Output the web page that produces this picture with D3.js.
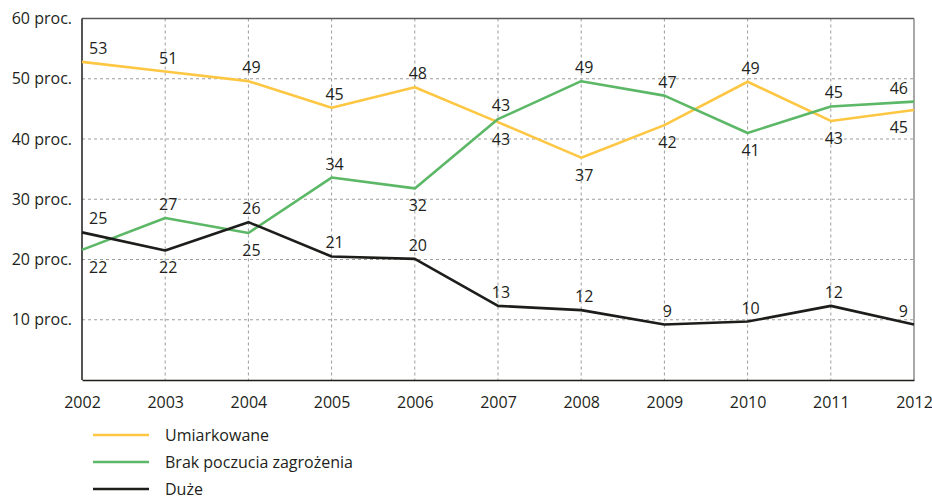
<!DOCTYPE html>
<html>
<head>
<meta charset="utf-8">
<script src="https://cdn.jsdelivr.net/npm/d3@7"></script>
<style>
  body { margin: 0; background: #fff; }
  svg text { font-family: "Open Sans", sans-serif; fill: #231f20; }
</style>
</head>
<body>
<div id="chart"></div>
<script>
const years = [2002, 2003, 2004, 2005, 2006, 2007, 2008, 2009, 2010, 2011, 2012];
const yTicks = [10, 20, 30, 40, 50, 60];

const umiarkowane = [52.8, 51.2, 49.6, 45.2, 48.6, 42.8, 36.9, 42.3, 49.5, 43.0, 44.8];
const umiarkowaneLabels = ["53", "51", "49", "45", "48", "43", "37", "42", "49", "43", "45"];
const umiarkowaneSide = ["a", "a", "a", "a", "a", "b", "b", "b", "a", "b", "b"];

const brak = [21.6, 26.9, 24.4, 33.6, 31.8, 43.3, 49.6, 47.2, 41.0, 45.4, 46.2];
const brakLabels = ["22", "27", "25", "34", "32", "43", "49", "47", "41", "45", "46"];
const brakSide = ["b", "a", "b", "a", "b", "a", "a", "a", "b", "a", "a"];

const duze = [24.5, 21.5, 26.2, 20.5, 20.1, 12.3, 11.6, 9.2, 9.7, 12.3, 9.2];
const duzeLabels = ["25", "22", "26", "21", "20", "13", "12", "9", "10", "12", "9"];
const duzeSide = ["a", "b", "a", "a", "a", "a", "a", "a", "a", "a", "a"];

const series = [
    { name: "Umiarkowane", values: umiarkowane, labels: umiarkowaneLabels, side: umiarkowaneSide, color: "#fdc743" },
    { name: "Brak poczucia zagrożenia", values: brak, labels: brakLabels, side: brakSide, color: "#5cb867" },
    { name: "Duże", values: duze, labels: duzeLabels, side: duzeSide, color: "#1d1d1b" }
];

const width = 932, height = 498;
const mLeft = 82, mRight = 914, mTop = 18.5, mBottom = 380;

const svg = d3.select("#chart").append("svg")
    .attr("width", width)
    .attr("height", height);

const x = d3.scaleLinear().domain([2002, 2012]).range([mLeft, mRight]);
const y = d3.scaleLinear().domain([0, 60]).range([mBottom, mTop]);

// grid
svg.append("g")
    .selectAll("line")
    .data(years.slice(1, -1))
    .join("line")
    .attr("x1", d => x(d)).attr("x2", d => x(d))
    .attr("y1", mTop).attr("y2", mBottom)
    .style("stroke", "#9d9d9c")
    .style("stroke-width", 1)
    .style("stroke-dasharray", "3,3");

svg.append("g")
    .selectAll("line")
    .data(yTicks.slice(0, -1))
    .join("line")
    .attr("x1", mLeft).attr("x2", mRight)
    .attr("y1", d => y(d)).attr("y2", d => y(d))
    .style("stroke", "#9d9d9c")
    .style("stroke-width", 1)
    .style("stroke-dasharray", "3,3");

// frame
svg.append("line")
    .attr("x1", mLeft).attr("x2", mRight).attr("y1", mTop).attr("y2", mTop)
    .style("stroke", "#5a5a5a").style("stroke-width", 1.3);
svg.append("line")
    .attr("x1", mRight).attr("x2", mRight).attr("y1", mTop).attr("y2", mBottom)
    .style("stroke", "#7a7a7a").style("stroke-width", 1.3);

// axes
const xAxis = svg.append("g")
    .attr("transform", `translate(0,${mBottom})`)
    .call(d3.axisBottom(x).tickValues(years).tickFormat(d3.format("d")).tickSize(0).tickPadding(17));
xAxis.select(".domain").style("stroke", "#1d1d1b").style("stroke-width", 1.5);
xAxis.selectAll("text").style("font-size", "16px").attr("dy", "0.71em").style("fill", "#231f20");

const yAxis = svg.append("g")
    .attr("transform", `translate(${mLeft},0)`)
    .call(d3.axisLeft(y).tickValues(yTicks).tickFormat(d => d + " proc.").tickSize(0).tickPadding(10));
yAxis.select(".domain").remove();
yAxis.selectAll("text").style("font-size", "16px").style("fill", "#231f20");
svg.append("line")
    .attr("x1", mLeft).attr("x2", mLeft).attr("y1", mTop).attr("y2", mBottom)
    .style("stroke", "#1d1d1b").style("stroke-width", 1.5);

// lines
const line = d3.line()
    .x((d, i) => x(years[i]))
    .y(d => y(d));

series.forEach(s => {
    svg.append("path")
        .datum(s.values)
        .attr("d", line)
        .style("fill", "none")
        .style("stroke", s.color)
        .style("stroke-width", 2.6)
        .style("stroke-linejoin", "round");
});

// value labels
series.forEach(s => {
    svg.append("g")
        .selectAll("text")
        .data(s.values)
        .join("text")
        .attr("x", (d, i) => {
            if (i === 0) return x(years[i]) + 7;
            if (i === years.length - 1) return x(years[i]) - 6;
            return x(years[i]) + 3;
        })
        .attr("y", (d, i) => s.side[i] === "a" ? y(d) - 8 : y(d) + 23)
        .attr("text-anchor", (d, i) => i === 0 ? "start" : (i === years.length - 1 ? "end" : "middle"))
        .style("font-size", "16px")
        .text((d, i) => s.labels[i]);
});

// legend
const legend = svg.append("g");
series.forEach((s, i) => {
    const ly = 435 + i * 27;
    legend.append("line")
        .attr("x1", 93).attr("x2", 149)
        .attr("y1", ly).attr("y2", ly)
        .style("stroke", s.color)
        .style("stroke-width", 2.6);
    legend.append("text")
        .attr("x", 165)
        .attr("y", ly + 5.5)
        .style("font-size", "16px")
        .text(s.name);
});
</script>
</body>
</html>
